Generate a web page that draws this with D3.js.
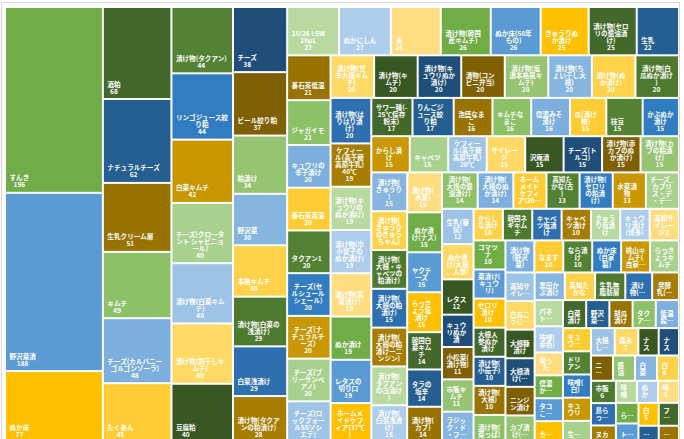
<!DOCTYPE html>
<html>
<head>
<meta charset="utf-8">
<script src="https://cdn.jsdelivr.net/npm/d3@7"></script>
<style>
body { margin: 0; background: #fff; }
.lbl { font-family: "Noto Sans CJK JP", "Noto Sans", sans-serif; font-weight: bold; font-size: 6.6px; fill: #fff; }
</style>
</head>
<body>
<svg id="chart" width="684" height="439"></svg>
<script>
// item names, in the order Excel lists them (largest first)
var names = [
	"すんき", "野沢菜漬", "ぬか床",
	"酒粕", "ナチュラルチーズ", "生乳クリーム層", "キムチ", "チーズ(カルバニーゴルゴンゾーラ)", "たくあん",
	"漬け物(タクアン)", "リンゴジュース絞り粕", "白菜キムチ", "チーズ(クロータント シャビニョール)", "漬け物(白菜キムチ)", "漬け物(割干しキムチ)", "豆腐粕",
	"チーズ", "ビール絞り粕", "粕漬け", "野沢菜", "本格キムチ", "漬け物(白菜の浅漬け)", "白菜浅漬け", "漬け物(タクアンの粕漬け)",
	"10/26 LSW 20μL", "ぬかにしん", "米", "漬け物(韓国産キムチ)", "ぬか床(50年もの)", "きゅうりぬか漬け", "漬け物(セロリの醤油漬け)", "生乳",
	"碁石茶低温", "ジャガイモ", "キュウリの辛子漬け", "碁石茶高温", "タクアン1", "チーズ(セルシュールシェール)", "チーズ(ナチュラルチーズ)", "チーズ(ブリーサンベアノ)", "チーズ(ロックフォールSSソシエテ)",
	"漬け物(甘辛大根キムチ)", "漬け物(キムチ)", "漬け物(キュウリぬか漬け)", "漬物(コンビニ弁当)", "漬け物(塩漬本格風キムチ)", "漬け物(ちょい干し大根)", "漬け物(ぬか漬け)", "漬け物(白瓜ぬか漬け)",
	"漬け物(はりはり漬け)", "ケフィール(高千穂高原牛乳)40℃", "漬け物(キュウリのぬか漬け)", "漬け物(巾小留子のぬか漬け)", "漬け物(高菜漬け)", "ぬか漬け", "レタスの切り口", "ホームメイドケフィア(37℃)",
	"サワー種(-25℃保存粉末)", "りんごジュース絞り粕", "泡盛なまこ", "キムチなまこ", "信濃みそ漬け", "瓜(漬け物)", "枝豆", "かぶぬか漬け",
	"からし漬け", "キャベツ", "ケフィール(高千穂高原牛乳)20℃", "サイレージ", "沢庵漬", "チーズ(トルコ)", "漬け物(赤カブのぬか漬け)", "漬け物(カブの粕漬け)",
	"漬け物(きゅうり)", "漬け物(きゅうりのきゅうちゃん)", "漬け物(大根・キャベツの粕漬け)", "漬け物(大根の粕漬け)", "漬け物(大根の粕漬けーニンジン)", "漬け物(タクアンの古漬け)", "漬け物(白菜浅漬け)",
	"漬け物(水菜)", "ぬか漬け(ナス)", "ヤクチーズ", "らっきょう塩漬け", "韓国白菜キムチ", "タラの塩辛", "漬け物(カブ)",
	"漬け物(大根の醤油漬け)", "漬け物(大根のぬか漬け)", "ホームメイドケフィア(20℃)", "高知たかな(古)", "漬け物(セロリの粕漬け)", "水菜漬物", "チーズ_カプリス・デ・デュー",
	"生乳(審試)", "ぬか漬け(大根、人参)", "レタス", "キュウリぬか漬", "小松菜(漬け物)", "市販キムチ", "ラジック・ド・フランス",
	"からしな漬け", "韓国ネギキムチ", "キャベツ塩漬け", "キャベツ漬け", "きゅうり塩漬け", "キュウリ漬け(博多)", "高知サイレージ2",
	"コマツナ", "菜漬け(キュウリ)", "セロリ漬け", "大根人参ぬか漬け", "漬け物(小茄子)", "漬け物(大根)", "漬け物(菜っぱ)",
	"漬け物(野沢菜)", "なます", "なら漬け", "ぬか床(自家製)", "桃山キムチ(自家製)", "らっきょうキムチ",
	"高知サイレージ1", "白瓜こうじ漬け", "大根糠漬け", "大根漬け(自家製)", "ニンジン漬け", "カブ漬け(自家製)",
	"黒田かぶ漬け", "高知たかな", "生乳無脂肪層", "漬け物(ミニトマト)", "発酵乳(茂)",
	"パネトーネ", "味噌(赤色)", "腐った", "信濃かぶ漬け", "タコこうじ漬", "カナモリ漬け", "白菜漬け", "野沢菜漬け", "胡瓜漬け", "タクアン漬け", "低温殺菌乳", "キュウリ漬け", "ドリアン", "味噌(白)", "キュウリ", "生乳(生)", "大根しょうゆ漬け", "森永",
	"ナス", "ナス", "ニシン", "醤油", "白菜", "白", "市販", "島らっきょう",
	"ヌカ", "味噌", "ぬか", "味", "らっきょう", "トマト", "白",
	"フレッシュ", "味噌漬け", "天然"
];

var values = [
	196, 188, 77,
	68, 62, 51, 49, 48, 45,
	44, 44, 42, 40, 40, 40, 40,
	38, 37, 34, 30, 30, 29, 29, 28,
	27, 27, 26, 26, 26, 25, 25, 22,
	21, 21, 20, 20, 20, 20, 20, 20, 20,
	20, 20, 20, 20, 20, 20, 20, 20,
	20, 19, 19, 19, 19, 19, 19, 18,
	17, 17, 16, 16, 16, 15, 15, 15,
	15, 15, 15, 15, 15, 15, 15, 15,
	15, 15, 15, 15, 15, 15, 15,
	15, 15, 15, 15, 14, 14, 14,
	14, 14, 13, 13, 13, 13, 13,
	12, 12, 12, 11, 11, 11, 11,
	10, 10, 10, 10, 10, 10, 10,
	10, 10, 10, 10, 10, 10, 10,
	10, 10, 10, 10, 10, 10,
	9, 9, 9, 9, 9, 9,
	9, 9, 9, 8, 8,
	8, 8, 7, 7, 7, 7, 7, 7, 7, 7, 7, 7, 7, 7, 7, 7, 7, 7,
	6, 6, 6, 6, 6, 6, 6, 6,
	5, 5, 5, 5, 5, 5, 5,
	5, 4, 4
];

// Excel cycles 27 shades of green / blue / gold
var palette = [
	"#70AD47", "#5B9BD5", "#FFC000",
	"#43682B", "#255E91", "#997300",
	"#8CC168", "#7CAFDD", "#FFCD33",
	"#548235", "#327DC2", "#C99700",
	"#A9D18E", "#9DC3E6", "#FFD966",
	"#385723", "#1F4E79", "#7F6000",
	"#96C472", "#86B5E0", "#FFD24A",
	"#4E7A30", "#2E6FB0", "#A67D00",
	"#B8DAA0", "#ADCDEB", "#FFDD80"
];

var width = 684;
var height = 439;

var svg = d3.select("#chart");

// outer chart border
svg.append("rect")
	.attr("x", 1.5).attr("y", 2.5)
	.attr("width", 678).attr("height", 450)
	.attr("fill", "none")
	.attr("stroke", "#D9D9D9");

var items = names.map(function(n, i) { return {name: n, value: values[i], idx: i}; });

var root = d3.hierarchy({children: items})
	.sum(function(d) { return d.value || 0; })
	.sort(function(a, b) { return b.value - a.value || a.data.idx - b.data.idx; });

// plot area of the treemap (runs a little past the bottom of the window)
var plot = {left: 6, top: 8, w: 672, h: 435.05};
var visibleBottom = height + 2.5 - plot.top;

d3.treemap()
	.tile(d3.treemapSquarify.ratio(1))
	.size([plot.w, plot.h])
	.paddingInner(2)(root);

var g = svg.append("g").attr("transform", "translate(" + plot.left + "," + plot.top + ")");

// hidden text used for measuring label widths
var measurer = g.append("text").attr("class", "lbl").attr("visibility", "hidden");
function textW(s) {
	measurer.text(s);
	return measurer.node().getComputedTextLength();
}

// break a name into lines no wider than maxW
function wrap(str, maxW) {
	var tokens = str.match(/[A-Za-z]+|\s|./gu) || [];
	var lines = [], cur = "";
	tokens.forEach(function(t) {
		var test = cur + t;
		if (cur && textW(test) > maxW) {
			if (t === " ") { lines.push(cur); cur = ""; return; }
			var sp = cur.lastIndexOf(" ");
			if (/[A-Za-z0-9μ]/.test(t) && sp > 0 && /^[\x21-\x7Eμ]*$/.test(cur.slice(sp + 1))) {
				lines.push(cur.slice(0, sp));
				cur = cur.slice(sp + 1) + t;
			} else {
				lines.push(cur);
				cur = t;
			}
		} else {
			cur = test;
		}
	});
	if (cur) lines.push(cur);
	return lines;
}

var padX = 3.5, padB = 4, padT = 2, lh = 7;

var cells = g.selectAll("g.cell")
	.data(root.leaves())
	.join("g")
	.attr("class", "cell");

cells.append("rect")
	.attr("x", function(d) { return d.x0; })
	.attr("y", function(d) { return d.y0; })
	.attr("width", function(d) { return Math.max(0, d.x1 - d.x0); })
	.attr("height", function(d) { return Math.max(0, d.y1 - d.y0); })
	.attr("fill", function(d) { return palette[d.data.idx % palette.length]; });

cells.each(function(d) {
	var bottom = Math.min(d.y1, visibleBottom);
	var w = d.x1 - d.x0, h = bottom - d.y0;
	var maxW = w - 2 * padX;
	var avail = Math.floor((h - padB - padT) / lh);
	if (avail < 1 || maxW < 3) return;
	var nameLines = wrap(d.data.name, maxW);
	var lines;
	if (nameLines.length + 1 <= avail) {
		lines = nameLines.concat([String(d.data.value)]);
	} else if (nameLines.length <= avail) {
		lines = nameLines;
	} else {
		lines = nameLines.slice(0, avail);
		var last = lines[avail - 1];
		while (last.length && textW(last + "…") > maxW) last = last.slice(0, -1);
		lines[avail - 1] = last + "…";
	}
	var blockW = d3.max(lines, function(s) { return textW(s); });
	blockW = Math.min(blockW, maxW);
	var cx = d.x0 + padX + blockW / 2;
	var n = lines.length;
	var t = d3.select(this).append("text")
		.attr("class", "lbl")
		.attr("text-anchor", "middle");
	lines.forEach(function(s, i) {
		t.append("tspan")
			.attr("x", cx)
			.attr("y", bottom - padB - (n - 1 - i) * lh - 0.5)
			.text(s);
	});
});

measurer.remove();
</script>
</body>
</html>
